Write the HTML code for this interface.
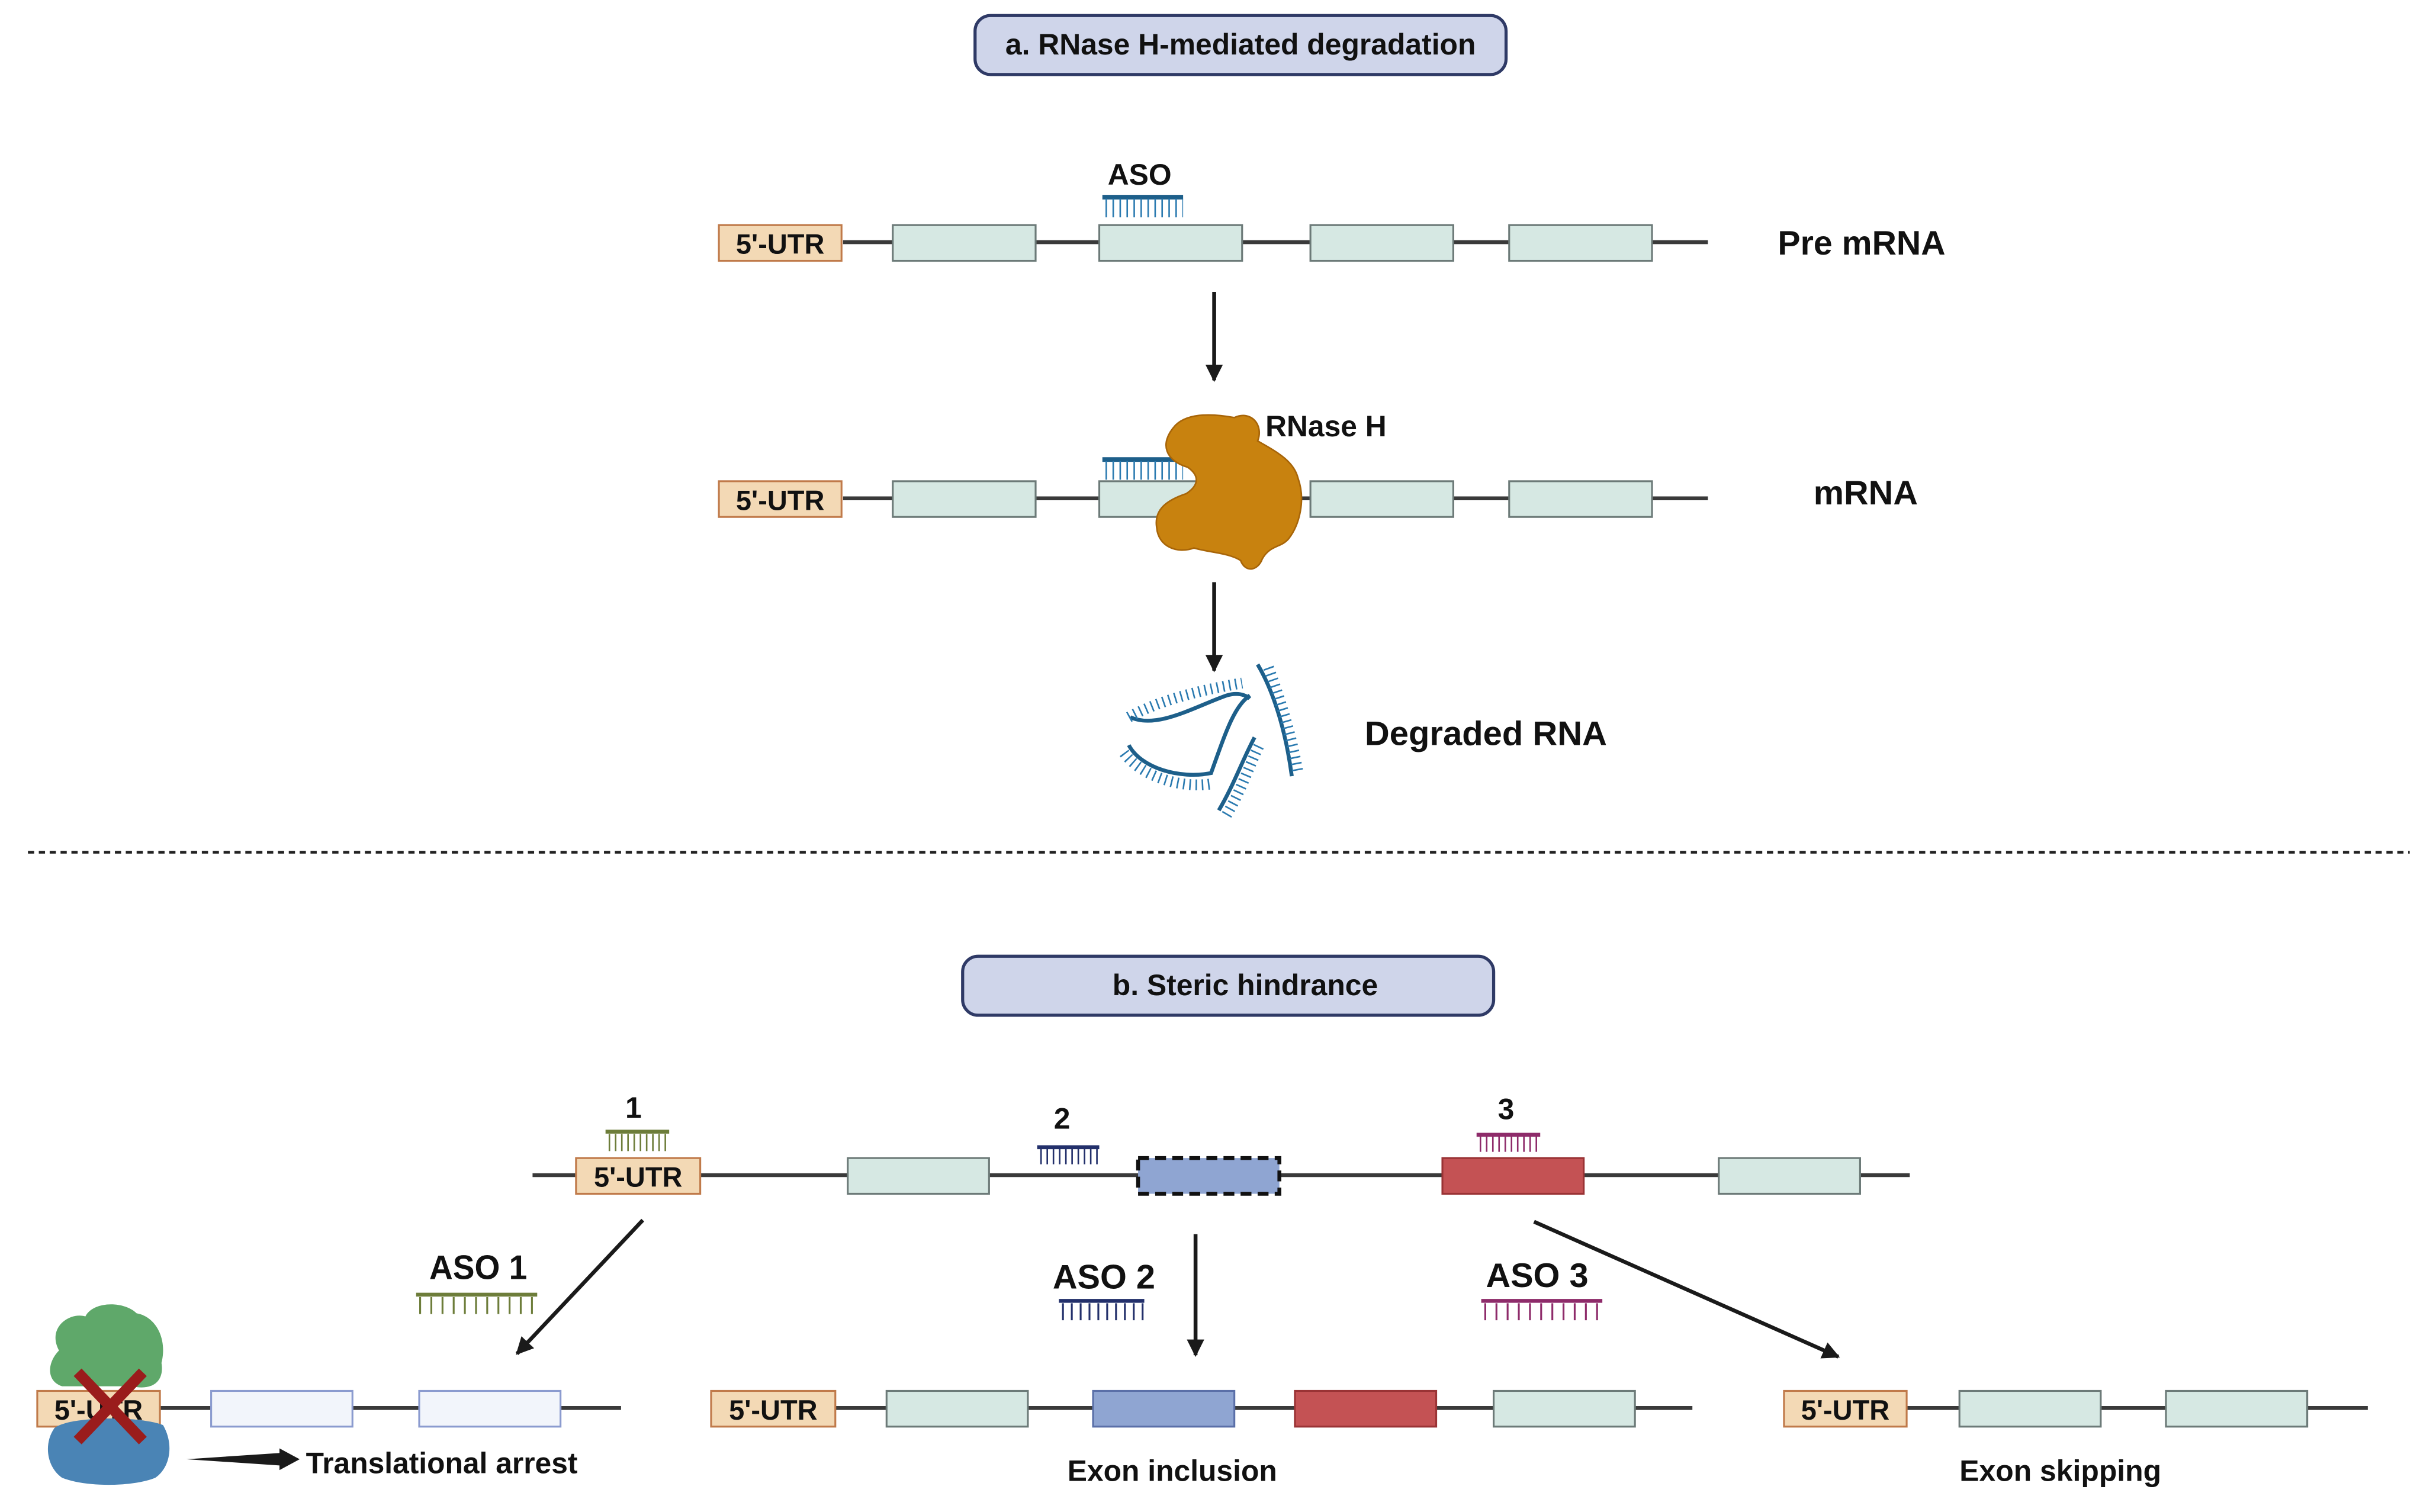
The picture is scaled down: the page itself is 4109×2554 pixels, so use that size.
<!DOCTYPE html>
<html><head><meta charset="utf-8"><style>
html,body{margin:0;padding:0;background:#fff}
svg{display:block}
text{font-family:"Liberation Sans",Arial,sans-serif;font-weight:bold;fill:#111}
</style></head><body>
<svg width="4109" height="2554" viewBox="0 0 1567 974" preserveAspectRatio="none" xmlns="http://www.w3.org/2000/svg">
<defs>
<marker id="ah" viewBox="0 0 10 10" refX="9" refY="5" markerWidth="4.5" markerHeight="4.5" orient="auto"><path d="M0,0 L10,5 L0,10 z" fill="#1a1a1a"/></marker>
</defs>

<g>
<rect x="628" y="10" width="342" height="38" rx="10" fill="#cfd5ea" stroke="#2f3a66" stroke-width="2"/>
<text x="799" y="35" font-size="19" text-anchor="middle" textLength="303" lengthAdjust="spacingAndGlyphs">a. RNase H-mediated degradation</text>
</g>

<g>
<line x1="543" y1="156" x2="1100" y2="156" stroke="#3a3a3a" stroke-width="2.5"/>
<rect x="463" y="145" width="79" height="23" fill="#f3d9b5" stroke="#c07a4a" stroke-width="1.2"/>
<text x="502.5" y="163.5" font-size="18" text-anchor="middle" textLength="57" lengthAdjust="spacingAndGlyphs">5'-UTR</text>
<rect x="575" y="145" width="92" height="23" fill="#d6e8e3" stroke="#6c7a78" stroke-width="1.2"/>
<rect x="708" y="145" width="92" height="23" fill="#d6e8e3" stroke="#6c7a78" stroke-width="1.2"/>
<rect x="844" y="145" width="92" height="23" fill="#d6e8e3" stroke="#6c7a78" stroke-width="1.2"/>
<rect x="972" y="145" width="92" height="23" fill="#d6e8e3" stroke="#6c7a78" stroke-width="1.2"/>
</g>
<g>
<text x="734" y="119" font-size="19" text-anchor="middle">ASO</text>
<line x1="710" y1="127" x2="762" y2="127" stroke="#1d5f8a" stroke-width="3"/>
<line x1="712" y1="134" x2="762" y2="134" stroke="#2a7ab0" stroke-width="12" stroke-dasharray="1 3.5"/>
</g>
<text x="1145" y="164" font-size="22" textLength="108" lengthAdjust="spacingAndGlyphs">Pre mRNA</text>
<line x1="782" y1="188" x2="782" y2="245" stroke="#1a1a1a" stroke-width="2.5" marker-end="url(#ah)"/>

<g>
<line x1="543" y1="321" x2="1100" y2="321" stroke="#3a3a3a" stroke-width="2.5"/>
<rect x="463" y="310" width="79" height="23" fill="#f3d9b5" stroke="#c07a4a" stroke-width="1.2"/>
<text x="502.5" y="328.5" font-size="18" text-anchor="middle" textLength="57" lengthAdjust="spacingAndGlyphs">5'-UTR</text>
<rect x="575" y="310" width="92" height="23" fill="#d6e8e3" stroke="#6c7a78" stroke-width="1.2"/>
<rect x="708" y="310" width="92" height="23" fill="#d6e8e3" stroke="#6c7a78" stroke-width="1.2"/>
<rect x="844" y="310" width="92" height="23" fill="#d6e8e3" stroke="#6c7a78" stroke-width="1.2"/>
<rect x="972" y="310" width="92" height="23" fill="#d6e8e3" stroke="#6c7a78" stroke-width="1.2"/>
</g>
<g>
<line x1="710" y1="296" x2="762" y2="296" stroke="#1d5f8a" stroke-width="3"/>
<line x1="712" y1="303" x2="762" y2="303" stroke="#2a7ab0" stroke-width="12" stroke-dasharray="1 3.5"/>
</g>
<path d="M757,274 C766,265 784,267 795,269 C806,264 814,274 810,284 C820,290 833,296 836,308 C841,322 837,338 830,347 C825,353 818,351 813,360 C810,368 802,369 799,361 C791,356 779,356 769,353 C758,357 746,352 745,340 C743,328 752,322 764,318 C773,312 772,306 765,301 C751,297 746,286 757,274 Z" fill="#c8820f" stroke="#a86508" stroke-width="1"/>
<text x="815" y="281" font-size="19" textLength="78" lengthAdjust="spacingAndGlyphs">RNase H</text>
<text x="1168" y="325" font-size="22">mRNA</text>
<line x1="782" y1="375" x2="782" y2="432" stroke="#1a1a1a" stroke-width="2.5" marker-end="url(#ah)"/>

<g fill="none" stroke="#1d5f8a" stroke-width="2.5">
<path d="M728,462 C745,470 770,455 790,448 C800,445 805,450 805,450"/>
<path d="M727,462 C745,452 770,445 800,440" stroke-width="7" stroke-dasharray="1 3" stroke="#2a7ab0"/>
<path d="M810,428 C820,445 828,470 832,500"/>
<path d="M817,430 C826,455 832,475 836,498" stroke-width="7" stroke-dasharray="1 3" stroke="#2a7ab0"/>
<path d="M727,480 C735,495 760,502 780,498 C790,470 795,455 805,448"/>
<path d="M724,485 C735,500 760,508 780,505" stroke-width="7" stroke-dasharray="1 3" stroke="#2a7ab0"/>
<path d="M785,522 C795,505 800,490 808,475"/>
<path d="M790,525 C800,508 805,492 812,478" stroke-width="7" stroke-dasharray="1 3" stroke="#2a7ab0"/>
</g>
<text x="879" y="480" font-size="22" textLength="156" lengthAdjust="spacingAndGlyphs">Degraded RNA</text>

<line x1="18" y1="549" x2="1552" y2="549" stroke="#222" stroke-width="1.8" stroke-dasharray="4 3"/>

<g>
<rect x="620" y="616" width="342" height="38" rx="10" fill="#cfd5ea" stroke="#2f3a66" stroke-width="2"/>
<text x="802" y="641" font-size="19" text-anchor="middle">b. Steric hindrance</text>
</g>

<g>
<line x1="343" y1="757" x2="1230" y2="757" stroke="#3a3a3a" stroke-width="2.5"/>
<rect x="371" y="746" width="80" height="23" fill="#f3d9b5" stroke="#c07a4a" stroke-width="1.2"/>
<text x="411" y="764.5" font-size="18" text-anchor="middle" textLength="57" lengthAdjust="spacingAndGlyphs">5'-UTR</text>
<rect x="546" y="746" width="91" height="23" fill="#d6e8e3" stroke="#6c7a78" stroke-width="1.2"/>
<rect x="733" y="746" width="91" height="23" fill="#8fa5d2" stroke="#111" stroke-width="2.5" stroke-dasharray="7 4"/>
<rect x="929" y="746" width="91" height="23" fill="#c45254" stroke="#9a3335" stroke-width="1.2"/>
<rect x="1107" y="746" width="91" height="23" fill="#d6e8e3" stroke="#6c7a78" stroke-width="1.2"/>
</g>
<g>
<text x="408" y="720" font-size="19" text-anchor="middle">1</text>
<line x1="390" y1="729" x2="431" y2="729" stroke="#6d7d3a" stroke-width="2.5"/>
<line x1="392" y1="736" x2="431" y2="736" stroke="#6d7d3a" stroke-width="11" stroke-dasharray="1 3"/>
</g>
<g>
<text x="684" y="727" font-size="19" text-anchor="middle">2</text>
<line x1="668" y1="739" x2="708" y2="739" stroke="#23306b" stroke-width="2.5"/>
<line x1="670" y1="745" x2="708" y2="745" stroke="#23306b" stroke-width="10" stroke-dasharray="1 3"/>
</g>
<g>
<text x="970" y="721" font-size="19" text-anchor="middle">3</text>
<line x1="951" y1="731" x2="992" y2="731" stroke="#8e2b6a" stroke-width="2.5"/>
<line x1="953" y1="737" x2="992" y2="737" stroke="#8e2b6a" stroke-width="10" stroke-dasharray="1 3"/>
</g>

<line x1="414" y1="786" x2="333" y2="872" stroke="#1a1a1a" stroke-width="2.5" marker-end="url(#ah)"/>
<line x1="770" y1="795" x2="770" y2="873" stroke="#1a1a1a" stroke-width="2.5" marker-end="url(#ah)"/>
<line x1="988" y1="787" x2="1184" y2="874" stroke="#1a1a1a" stroke-width="2.5" marker-end="url(#ah)"/>

<g>
<text x="308" y="824" font-size="22" text-anchor="middle" textLength="63" lengthAdjust="spacingAndGlyphs">ASO 1</text>
<line x1="268" y1="834" x2="346" y2="834" stroke="#6d7d3a" stroke-width="2.5"/>
<line x1="270" y1="841" x2="346" y2="841" stroke="#6d7d3a" stroke-width="11" stroke-dasharray="1.2 6"/>
</g>
<g>
<text x="711" y="830" font-size="22" text-anchor="middle" textLength="66" lengthAdjust="spacingAndGlyphs">ASO 2</text>
<line x1="682" y1="838" x2="737" y2="838" stroke="#23306b" stroke-width="2.5"/>
<line x1="684" y1="845" x2="737" y2="845" stroke="#23306b" stroke-width="11" stroke-dasharray="1.2 4.5"/>
</g>
<g>
<text x="990" y="829" font-size="22" text-anchor="middle" textLength="66" lengthAdjust="spacingAndGlyphs">ASO 3</text>
<line x1="954" y1="838" x2="1032" y2="838" stroke="#8e2b6a" stroke-width="2.5"/>
<line x1="956" y1="845" x2="1032" y2="845" stroke="#8e2b6a" stroke-width="11" stroke-dasharray="1.2 6"/>
</g>

<g>
<line x1="103" y1="907" x2="400" y2="907" stroke="#3a3a3a" stroke-width="2.5"/>
<rect x="136" y="896" width="91" height="23" fill="#f2f5fb" stroke="#8b9bcf" stroke-width="1.2"/>
<rect x="270" y="896" width="91" height="23" fill="#f2f5fb" stroke="#8b9bcf" stroke-width="1.2"/>
<path d="M38,870 C30,855 45,845 55,848 C60,838 80,838 88,846 C100,848 108,862 104,878 C106,890 98,896 85,893 L40,893 C30,890 30,878 38,870 Z" fill="#5fa86a"/>
<rect x="24" y="896" width="79" height="23" fill="#f3d9b5" stroke="#c07a4a" stroke-width="1.2"/>
<text x="63.5" y="914.5" font-size="18" text-anchor="middle" textLength="57" lengthAdjust="spacingAndGlyphs">5'-UTR</text>
<path d="M35,920 C45,912 90,912 105,918 C112,930 110,945 100,952 C85,958 55,958 40,952 C30,945 28,930 35,920 Z" fill="#4a84b5"/>
<g stroke="#9a1c1c" stroke-width="7">
<line x1="50" y1="884" x2="92" y2="928"/><line x1="92" y1="884" x2="50" y2="928"/>
</g>
<path d="M120,940 L180,936 L180,933 L193,940 L180,947 L180,944 Z" fill="#1a1a1a"/>
<text x="197" y="949" font-size="19" textLength="175" lengthAdjust="spacingAndGlyphs">Translational arrest</text>
</g>

<g>
<line x1="538" y1="907" x2="1090" y2="907" stroke="#3a3a3a" stroke-width="2.5"/>
<rect x="458" y="896" width="80" height="23" fill="#f3d9b5" stroke="#c07a4a" stroke-width="1.2"/>
<text x="498" y="914.5" font-size="18" text-anchor="middle" textLength="57" lengthAdjust="spacingAndGlyphs">5'-UTR</text>
<rect x="571" y="896" width="91" height="23" fill="#d6e8e3" stroke="#6c7a78" stroke-width="1.2"/>
<rect x="704" y="896" width="91" height="23" fill="#8fa5d2" stroke="#5a6fa8" stroke-width="1.2"/>
<rect x="834" y="896" width="91" height="23" fill="#c45254" stroke="#9a3335" stroke-width="1.2"/>
<rect x="962" y="896" width="91" height="23" fill="#d6e8e3" stroke="#6c7a78" stroke-width="1.2"/>
<text x="755" y="954" font-size="19" text-anchor="middle" textLength="135" lengthAdjust="spacingAndGlyphs">Exon inclusion</text>
</g>

<g>
<line x1="1228" y1="907" x2="1525" y2="907" stroke="#3a3a3a" stroke-width="2.5"/>
<rect x="1149" y="896" width="79" height="23" fill="#f3d9b5" stroke="#c07a4a" stroke-width="1.2"/>
<text x="1188.5" y="914.5" font-size="18" text-anchor="middle" textLength="57" lengthAdjust="spacingAndGlyphs">5'-UTR</text>
<rect x="1262" y="896" width="91" height="23" fill="#d6e8e3" stroke="#6c7a78" stroke-width="1.2"/>
<rect x="1395" y="896" width="91" height="23" fill="#d6e8e3" stroke="#6c7a78" stroke-width="1.2"/>
<text x="1327" y="954" font-size="19" text-anchor="middle" textLength="130" lengthAdjust="spacingAndGlyphs">Exon skipping</text>
</g>
</svg>
</body></html>
